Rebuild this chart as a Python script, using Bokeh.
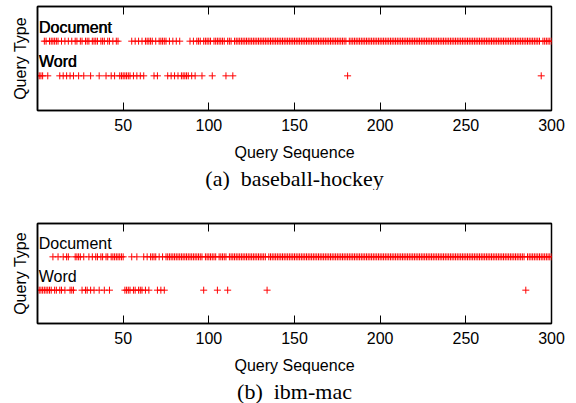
from bokeh.plotting import figure
from bokeh.models import FixedTicker, LinearAxis, Title, Range1d
from bokeh.layouts import column
from bokeh.embed import file_html
from bokeh.resources import INLINE
from bokeh.core.properties import value

# ---------------- data ----------------
x_ticks = [50, 100, 150, 200, 250, 300]
row_names = ["Word", "Document"]
row_levels = [1, 2]
label_levels = [1.4, 2.4]
captions = ["(a)\u00a0 baseball-hockey", "(b)\u00a0 ibm-mac"]

# (a) baseball-hockey: query sequence numbers per query type
word_a = [1, 2, 3, 6, 13, 15, 17, 19, 21, 24, 27, 31, 36, 40, 43, 45, 48, 49, 50, 51,
          52, 53, 54, 56, 58, 60, 62, 68, 70, 76, 78, 80, 82, 84, 85, 86, 87, 88, 90, 92,
          96, 102, 110, 114, 181, 294]
doc_a = [4, 5, 7, 8, 9, 10, 11, 12, 14, 16, 18, 20, 22, 23, 25, 26, 28, 29, 30, 32,
         33, 34, 35, 37, 38, 39, 41, 42, 44, 46, 47, 55, 57, 59, 61, 63, 64, 65, 66, 67,
         69, 71, 72, 73, 74, 75, 77, 79, 81, 83, 89, 91, 93, 94, 95, 97, 98, 99, 100, 101,
         103, 104, 105, 106, 107, 108, 109, 111, 112, 113, 115, 116, 117, 118, 119, 120, 121, 122, 123, 124,
         125, 126, 127, 128, 129, 130, 131, 132, 133, 134, 135, 136, 137, 138, 139, 140, 141, 142, 143, 144,
         145, 146, 147, 148, 149, 150, 151, 152, 153, 154, 155, 156, 157, 158, 159, 160, 161, 162, 163, 164,
         165, 166, 167, 168, 169, 170, 171, 172, 173, 174, 175, 176, 177, 178, 179, 180, 182, 183, 184, 185,
         186, 187, 188, 189, 190, 191, 192, 193, 194, 195, 196, 197, 198, 199, 200, 201, 202, 203, 204, 205,
         206, 207, 208, 209, 210, 211, 212, 213, 214, 215, 216, 217, 218, 219, 220, 221, 222, 223, 224, 225,
         226, 227, 228, 229, 230, 231, 232, 233, 234, 235, 236, 237, 238, 239, 240, 241, 242, 243, 244, 245,
         246, 247, 248, 249, 250, 251, 252, 253, 254, 255, 256, 257, 258, 259, 260, 261, 262, 263, 264, 265,
         266, 267, 268, 269, 270, 271, 272, 273, 274, 275, 276, 277, 278, 279, 280, 281, 282, 283, 284, 285,
         286, 287, 288, 289, 290, 291, 292, 293, 295, 296, 297, 298, 299, 300]

# (b) ibm-mac
word_b = [1, 2, 3, 4, 5, 6, 7, 8, 10, 11, 13, 14, 16, 19, 20, 21, 26, 28, 29, 31,
          33, 36, 39, 42, 51, 52, 53, 54, 56, 57, 59, 60, 61, 63, 65, 70, 72, 74, 97, 105,
          111, 134, 285]
doc_b = [9, 12, 15, 17, 18, 22, 23, 24, 25, 27, 30, 32, 34, 35, 37, 38, 40, 41, 43, 44,
         45, 46, 47, 48, 49, 50, 55, 58, 62, 64, 66, 67, 68, 69, 71, 73, 75, 76, 77, 78,
         79, 80, 81, 82, 83, 84, 85, 86, 87, 88, 89, 90, 91, 92, 93, 94, 95, 96, 98, 99,
         100, 101, 102, 103, 104, 106, 107, 108, 109, 110, 112, 113, 114, 115, 116, 117, 118, 119, 120, 121,
         122, 123, 124, 125, 126, 127, 128, 129, 130, 131, 132, 133, 135, 136, 137, 138, 139, 140, 141, 142,
         143, 144, 145, 146, 147, 148, 149, 150, 151, 152, 153, 154, 155, 156, 157, 158, 159, 160, 161, 162,
         163, 164, 165, 166, 167, 168, 169, 170, 171, 172, 173, 174, 175, 176, 177, 178, 179, 180, 181, 182,
         183, 184, 185, 186, 187, 188, 189, 190, 191, 192, 193, 194, 195, 196, 197, 198, 199, 200, 201, 202,
         203, 204, 205, 206, 207, 208, 209, 210, 211, 212, 213, 214, 215, 216, 217, 218, 219, 220, 221, 222,
         223, 224, 225, 226, 227, 228, 229, 230, 231, 232, 233, 234, 235, 236, 237, 238, 239, 240, 241, 242,
         243, 244, 245, 246, 247, 248, 249, 250, 251, 252, 253, 254, 255, 256, 257, 258, 259, 260, 261, 262,
         263, 264, 265, 266, 267, 268, 269, 270, 271, 272, 273, 274, 275, 276, 277, 278, 279, 280, 281, 282,
         283, 284, 286, 287, 288, 289, 290, 291, 292, 293, 294, 295, 296, 297, 298, 299, 300]

SANS = "Liberation Sans"
SERIF = "Liberation Serif"
RED = "#ff0000"


def make_panel(word_x, doc_x, caption, height, top_border, bottom_border, heavy):
    p = figure(width=573, height=height,
               x_range=Range1d(0, 300), y_range=Range1d(0, 3),
               output_backend="svg", toolbar_location=None,
               min_border_left=37, min_border_right=22,
               min_border_top=top_border, min_border_bottom=bottom_border)
    p.grid.visible = False
    p.outline_line_color = "black"
    p.outline_line_width = 1.5
    p.background_fill_color = "white"
    p.border_fill_color = "white"

    xa = p.xaxis[0]
    xa.ticker = FixedTicker(ticks=x_ticks)
    xa.minor_tick_line_color = None
    xa.major_tick_in = 8
    xa.major_tick_out = 0
    xa.major_tick_line_color = "black"
    xa.axis_line_width = 1.5
    xa.major_label_standoff = 8
    xa.major_label_text_font = SANS
    xa.major_label_text_font_size = "16px"
    xa.major_label_text_color = "black"
    xa.axis_label = "Query Sequence"
    xa.axis_label_text_font = SANS
    xa.axis_label_text_font_size = "16px"
    xa.axis_label_text_font_style = "normal"
    xa.axis_label_text_color = "black"
    xa.axis_label_standoff = 10

    top_ax = LinearAxis(ticker=FixedTicker(ticks=x_ticks), major_tick_in=8, major_tick_out=0,
                        minor_tick_line_color=None, major_label_text_font_size="1px",
                        major_label_text_color=None, major_label_text_alpha=0,
                        major_label_standoff=0, axis_line_width=1.5)
    p.add_layout(top_ax, "above")

    ya = p.yaxis[0]
    ya.ticker = FixedTicker(ticks=[])
    ya.minor_tick_line_color = None
    ya.major_tick_line_color = None
    ya.axis_line_width = 1.5
    ya.axis_label = "Query Type"
    ya.axis_label_text_font = SANS
    ya.axis_label_text_font_size = "16px"
    ya.axis_label_text_font_style = "normal"
    ya.axis_label_text_color = "black"
    ya.axis_label_standoff = 9

    rows = [word_x, doc_x]
    for xs, lvl in zip(rows, row_levels):
        p.scatter(xs, [lvl] * len(xs), marker="cross", size=7,
                  line_color=RED, line_width=1)

    offsets = [0, 0.6] if heavy else [0]
    for off in offsets:
        p.text(x=[0.7, 0.7], y=label_levels, text=row_names,
               text_font=value(SANS), text_font_size="16px",
               text_align="left", text_baseline="middle",
               text_color="black", x_offset=off)

    p.add_layout(Title(text=caption, align="center", text_font=SERIF,
                       text_font_size="22px", text_font_style="normal",
                       text_color="black", standoff=0), "below")
    return p


p1 = make_panel(word_a, doc_a, captions[0], 190, 6, 80, True)
p2 = make_panel(word_b, doc_b, captions[1], 213, 33, 78, False)
layout = column(p1, p2, spacing=0)

open("out.html", "w").write(file_html(layout, INLINE))
